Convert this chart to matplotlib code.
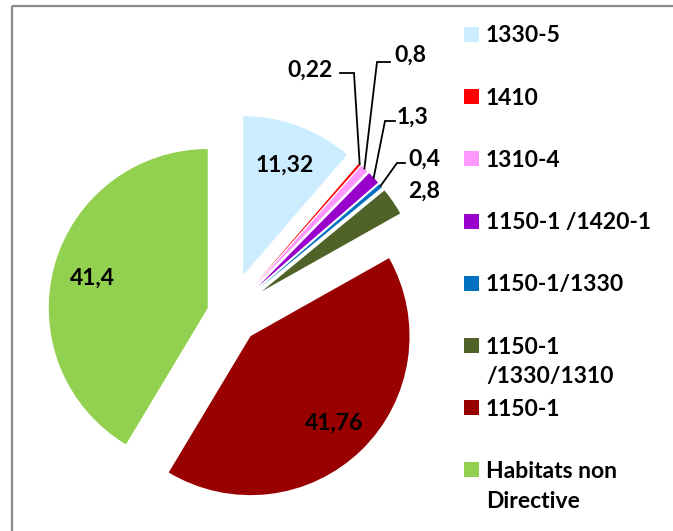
import numpy as np
import matplotlib.pyplot as plt
from matplotlib.patches import Rectangle

# habitats et surfaces (%)
categories = ['1330-5', '1410', '1310-4', '1150-1 /1420-1', '1150-1/1330',
              '1150-1\n/1330/1310', '1150-1', 'Habitats non\nDirective']
valeurs = [11.32, 0.22, 0.8, 1.3, 0.4, 2.8, 41.76, 41.4]
couleurs = ['#CCECFF', '#FF0000', '#FF99FF', '#9900CC', '#0070C0',
            '#4F6228', '#990000', '#92D050']
ecarts = [0.26, 0.25, 0.25, 0.25, 0.25, 0.25, 0.195, 0.138]

L, H = 673, 531
cx, cy, R = 228.9, 313.9, 159.0

plt.rcParams['font.family'] = ['Lato', 'DejaVu Sans']
plt.rcParams['font.weight'] = 'bold'
taille = 16.5

fig = plt.figure(figsize=(L / 100, H / 100), dpi=100)
ax = fig.add_axes([0, 0, 1, 1])
wedges, _ = ax.pie(valeurs, colors=couleurs, explode=ecarts, startangle=90,
                   counterclock=False, wedgeprops=dict(linewidth=0))
ax.set_xlim(-cx / R, (L - cx) / R)
ax.set_ylim(-(H - cy) / R, cy / R)

# calque en pixels pour textes, legende et cadre
ov = fig.add_axes([0, 0, 1, 1])
ov.set_xlim(0, L)
ov.set_ylim(H, 0)
ov.axis('off')


def vers_px(X, Y):
    return cx + R * X, cy - R * Y


def point_part(w, frac):
    t = np.deg2rad((w.theta1 + w.theta2) / 2)
    return vers_px(w.center[0] + frac * w.r * np.cos(t),
                   w.center[1] + frac * w.r * np.sin(t))


def etiquette(v):
    return f"{v:g}".replace('.', ',')


def ecrire(x, y, s, ha='center'):
    # y = centre visuel des chiffres
    ov.text(x, y + 8, s, ha=ha, va='baseline', fontsize=taille, color='black')


# etiquettes dans les parts
for i in (0, 6, 7):
    x, y = point_part(wedges[i], 0.75)
    ecrire(x, y, etiquette(valeurs[i]))

ecrire(424, 190, etiquette(valeurs[5]))

# petites parts avec lignes de rappel
rappels = {1: ((310, 69), [(340, 73), (354, 73)]),
           2: ((410, 54), [(390, 62), (377, 62)]),
           3: ((413, 116), [(395, 121), (385, 121)]),
           4: ((424, 158), [(405, 163), (397, 163)])}
for i, (pos, coude) in rappels.items():
    ecrire(pos[0], pos[1], etiquette(valeurs[i]))
    px, py = point_part(wedges[i], 1.0)
    xs = [c[0] for c in coude] + [px]
    ys = [c[1] for c in coude] + [py]
    ov.plot(xs, ys, color='black', lw=1.3, solid_joinstyle='miter')

# legende
for i, (nom, coul) in enumerate(zip(categories, couleurs)):
    yc = 34.5 + 62.2 * i
    ov.add_patch(Rectangle((464, yc - 7.5), 15, 15, facecolor=coul, edgecolor='none'))
    for k, ligne in enumerate(nom.split('\n')):
        ecrire(486, yc + 30 * k, ligne, ha='left')

# cadre
ov.add_patch(Rectangle((12, 6), 700, 560, fill=False, edgecolor='#8a8a8a', lw=1.6))

fig.savefig('out.png', dpi=100)
